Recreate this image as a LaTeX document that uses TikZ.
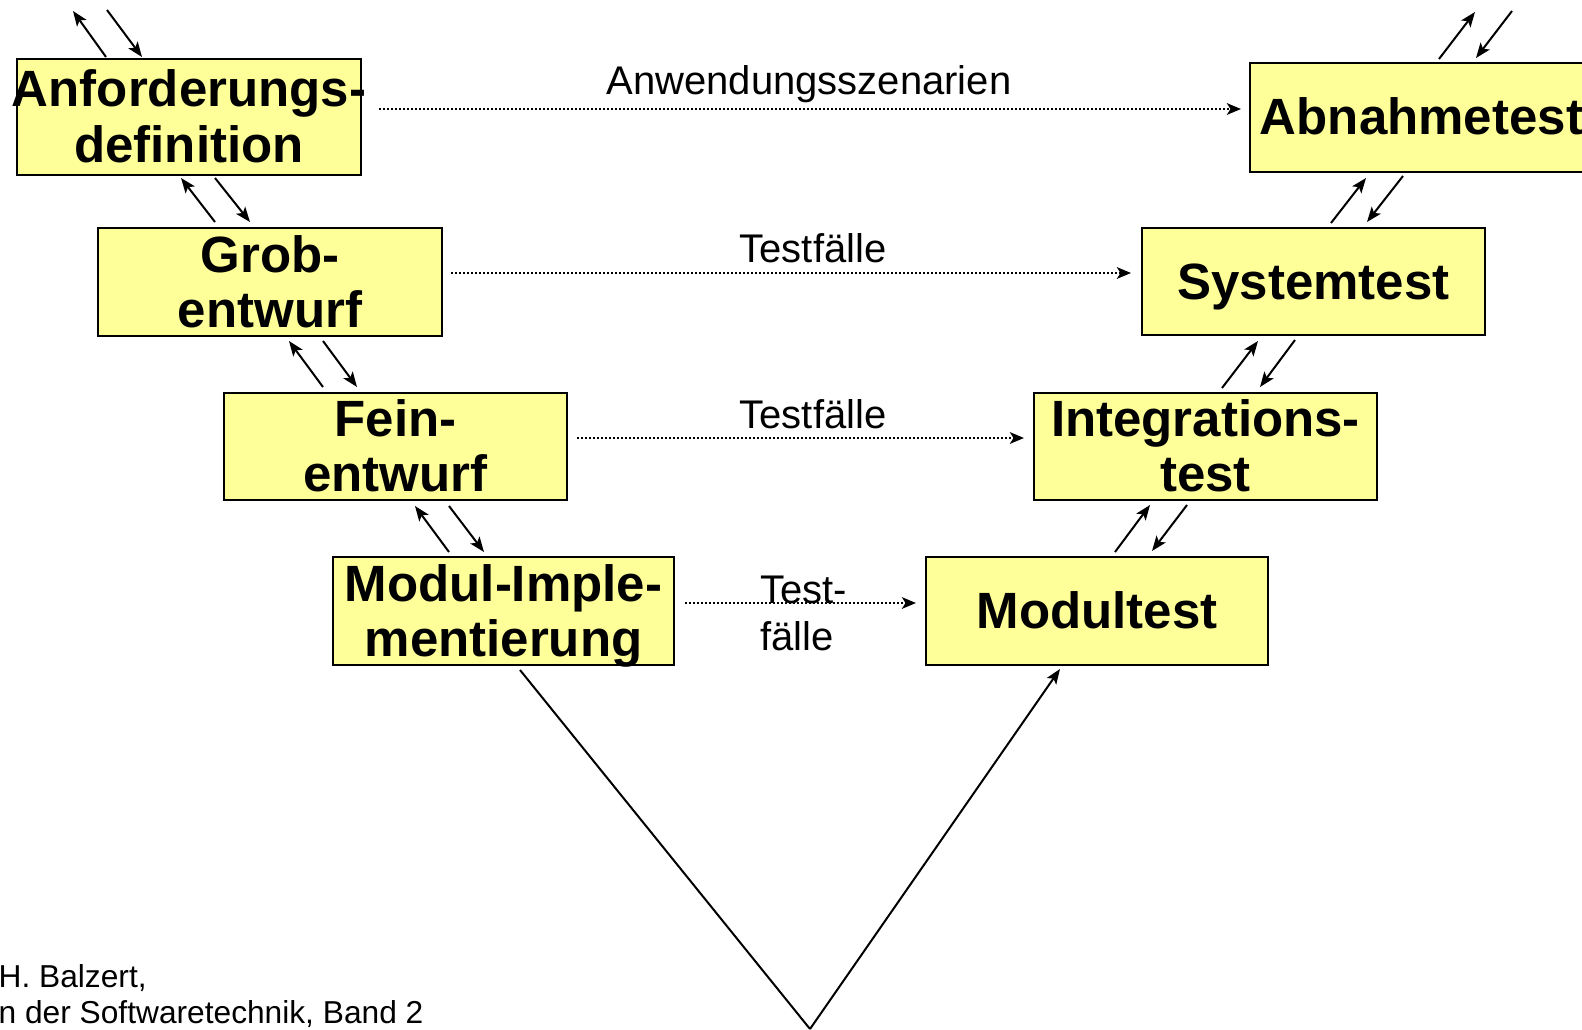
\documentclass[tikz,border=0pt]{standalone}
\usepackage{fontspec}
\setmainfont{Liberation Sans}
\usetikzlibrary{arrows.meta,calc}
\definecolor{boxyellow}{RGB}{255,255,153}
\begin{document}
\begin{tikzpicture}[x=1pt,y=-1pt,
  box/.style={draw=black, line width=2pt, fill=boxyellow, inner sep=0pt},
  boxtext/.style={font=\fontsize{51pt}{56pt}\selectfont\bfseries, inner sep=0pt, anchor=base},
  lbl/.style={font=\fontsize{40pt}{46pt}\selectfont, inner sep=0pt, anchor=base},
  note/.style={font=\fontsize{31.7pt}{35pt}\selectfont, inner sep=0pt, anchor=base west},
  flow/.style={line width=2pt, -{Stealth[length=15pt,width=11.5pt,inset=3.5pt]}},
  vline/.style={line width=2pt},
  link/.style={line width=2.6pt, dash pattern=on 2pt off 2pt, -{Stealth[length=14pt,width=11.5pt,inset=3.5pt]}}]
\useasboundingbox (0,0) rectangle (1582,1030);
\clip (0,0) rectangle (1582,1030);

% phase boxes, left branch
\node[box, minimum width=344pt, minimum height=116pt] (anf)   at (189,117)    {};
\node[box, minimum width=344pt, minimum height=108pt] (grob)  at (270,282)    {};
\node[box, minimum width=343pt, minimum height=107pt] (fein)  at (395.5,446.5) {};
\node[box, minimum width=341pt, minimum height=108pt] (modul) at (503.5,611)  {};
% phase boxes, right branch
\node[box, minimum width=343pt, minimum height=109pt] (abn)   at (1421.5,117.5) {};
\node[box, minimum width=343pt, minimum height=107pt] (sys)   at (1313.5,281.5) {};
\node[box, minimum width=343pt, minimum height=107pt] (integ) at (1205.5,446.5) {};
\node[box, minimum width=342pt, minimum height=108pt] (mt)    at (1097,611)   {};

% box captions
\node[boxtext] (anf-a)   at ($(anf.center)+(0,-10)$)   {Anforderungs-};
\node[boxtext] (anf-b)   at ($(anf.center)+(0,45)$)    {definition};
\node[boxtext] (grob-a)  at ($(grob.center)+(0,-10)$)  {Grob-};
\node[boxtext] (grob-b)  at ($(grob.center)+(0,45)$)   {entwurf};
\node[boxtext] (fein-a)  at ($(fein.center)+(0,-10)$)  {Fein-};
\node[boxtext] (fein-b)  at ($(fein.center)+(0,45)$)   {entwurf};
\node[boxtext] (modul-a) at ($(modul.center)+(0,-10)$) {Modul-Imple-};
\node[boxtext] (modul-b) at ($(modul.center)+(0,45)$)  {mentierung};
\node[boxtext] (abn-a)   at ($(abn.center)+(0,17.5)$)  {Abnahmetest};
\node[boxtext] (sys-a)   at ($(sys.center)+(0,17.5)$)  {Systemtest};
\node[boxtext] (integ-a) at ($(integ.center)+(0,-10)$) {Integrations-};
\node[boxtext] (integ-b) at ($(integ.center)+(0,45)$)  {test};
\node[boxtext] (mt-a)    at ($(mt.center)+(0,17.5)$)   {Modultest};

% loose ends above the top boxes
\coordinate (anf-out) at (73,11);
\coordinate (anf-in)  at (107,10);
\coordinate (abn-out) at (1475,12);
\coordinate (abn-in)  at (1512,11);

% feedback arrows, left branch
\draw[flow] ($(anf.north west)+(90,-1)$) -- (anf-out);
\draw[flow] (anf-in) -- ($(anf.north west)+(126,-1)$);
\draw[flow] ($(grob.north west)+(118,-5)$) -- ($(anf.south west)+(165,2)$);
\draw[flow] ($(anf.south west)+(199,2)$) -- ($(grob.north west)+(153,-5)$);
\draw[flow] ($(fein.north west)+(100,-5)$) -- ($(grob.south west)+(192,4)$);
\draw[flow] ($(grob.south west)+(226,4)$) -- ($(fein.north west)+(134,-5)$);
\draw[flow] ($(modul.north west)+(117,-4)$) -- ($(fein.south west)+(192,5)$);
\draw[flow] ($(fein.south west)+(226,5)$) -- ($(modul.north west)+(152,-4)$);

% feedback arrows, right branch
\draw[flow] ($(abn.north west)+(190,-3)$) -- (abn-out);
\draw[flow] (abn-in) -- ($(abn.north west)+(227,-4)$);
\draw[flow] ($(sys.north west)+(190,-4)$) -- ($(abn.south west)+(117,5)$);
\draw[flow] ($(abn.south west)+(154,3)$) -- ($(sys.north west)+(226,-5)$);
\draw[flow] ($(integ.north west)+(189,-4)$) -- ($(sys.south west)+(117,5)$);
\draw[flow] ($(sys.south west)+(154,4)$) -- ($(integ.north west)+(227,-5)$);
\draw[flow] ($(mt.north west)+(190,-4)$) -- ($(integ.south west)+(117,4)$);
\draw[flow] ($(integ.south west)+(154,4)$) -- ($(mt.north west)+(227,-5)$);

% the V from implementation down and back up to module test
\coordinate (vbottom) at (810,1029);
\draw[vline] ($(modul.south west)+(188,4)$) -- (vbottom);
\draw[vline, -{Stealth[length=15pt,width=11.5pt,inset=3.5pt]}] (vbottom) -- ($(mt.south west)+(135,3)$);

% test specifications handed across
\draw[link] ($(anf.north east)+(17,51)$) -- ($(abn.north west)+(-8,47)$);
\draw[link] ($(grob.north east)+(8,46)$) -- ($(sys.north west)+(-10,46)$);
\draw[link] ($(fein.north east)+(9,46)$) -- ($(integ.north west)+(-9,46)$);
\draw[link] ($(modul.north east)+(10,47)$) -- ($(mt.north west)+(-9,47)$);

\node[lbl] (l-anw)  at (809,95)  {Anwendungsszenarien};
\node[lbl] (l-tf1)  at (813,262) {Testfälle};
\node[lbl] (l-tf2)  at (813,428) {Testfälle};
\node[lbl, anchor=base west] (l-tf3a) at (760,603) {Test-};
\node[lbl, anchor=base west] (l-tf3b) at (760,650) {fälle};

% source reference
\node[note] (src1) at (-1.5,987)  {H. Balzert,};
\node[note] (src2) at (-1.5,1023) {n der Softwaretechnik, Band 2};
\end{tikzpicture}
\end{document}
